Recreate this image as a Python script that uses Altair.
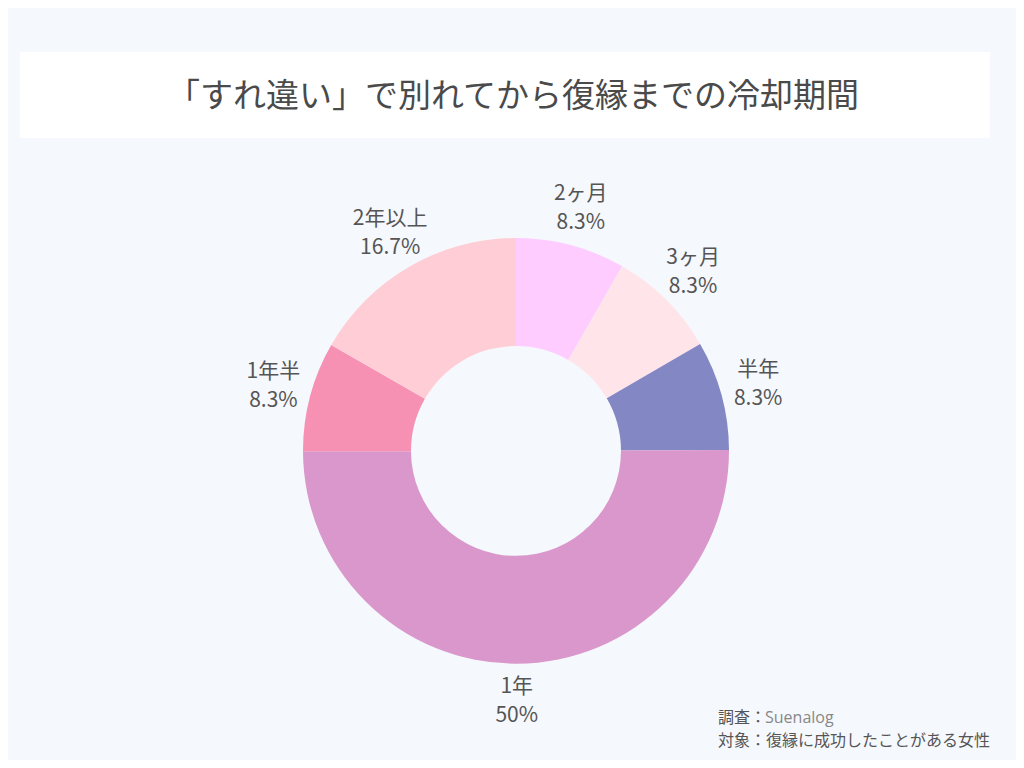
import altair as alt
import pandas as pd

categories = ["2ヶ月", "3ヶ月", "半年", "1年", "1年半", "2年以上"]
values = [8.3, 8.3, 8.3, 50.0, 8.3, 16.7]
pct_labels = ["8.3%", "8.3%", "8.3%", "50%", "8.3%", "16.7%"]
colors = ["#ffccff", "#ffe5ea", "#8387c3", "#da97cb", "#f791b3", "#ffcdd5"]

title_text = "「すれ違い」で別れてから復縁までの冷却期間"
source_label = "調査："
source_value = "Suenalog"
target_line = "対象：復縁に成功したことがある女性"

df = pd.DataFrame({
    "cat": categories,
    "val": values,
    "pct": pct_labels,
    "idx": list(range(len(categories))),
})
df["label"] = df["cat"] + "\n" + df["pct"]

W, H = 1008, 752
CX, CY = 508, 443
JP = "Noto Sans CJK JP"

base = alt.Chart(df).encode(
    theta=alt.Theta("val:Q", stack=True),
    order=alt.Order("idx:Q"),
)

arcs = base.mark_arc(outerRadius=213, innerRadius=105, stroke=None).encode(
    x=alt.value(CX), y=alt.value(CY),
    color=alt.Color("cat:N", scale=alt.Scale(domain=categories, range=colors), legend=None),
)

labels = base.mark_text(
    radius=251, dy=-15, fontSize=21, lineHeight=29, lineBreak="\n", font=JP,
    color="#555555", align="center", baseline="middle",
).encode(
    x=alt.value(CX), y=alt.value(CY),
    text="label:N",
)

one = pd.DataFrame({"a": [0]})
title_box = alt.Chart(one).mark_rect(color="#ffffff").encode(
    x=alt.value(12), x2=alt.value(982), y=alt.value(44), y2=alt.value(130)
)
title = alt.Chart(one).mark_text(
    text=title_text, font=JP, fontSize=33, fontWeight="normal", color="#4a4a4a",
    align="center", baseline="middle",
).encode(x=alt.value(505), y=alt.value(89))

src1 = alt.Chart(one).mark_text(
    text=source_label, font=JP, fontSize=16, color="#555555", align="left", baseline="middle"
).encode(x=alt.value(710), y=alt.value(710))
src2 = alt.Chart(one).mark_text(
    text=source_value, font="Open Sans", fontSize=16, color="#888888", align="left", baseline="middle"
).encode(x=alt.value(757), y=alt.value(710))
tgt = alt.Chart(one).mark_text(
    text=target_line, font=JP, fontSize=16, color="#555555", align="left", baseline="middle"
).encode(x=alt.value(710), y=alt.value(733))

chart = alt.layer(title_box, title, arcs, labels, src1, src2, tgt).properties(
    width=W, height=H, background="#f5f8fc", padding=0,
    autosize=alt.AutoSizeParams(type="none"),
).configure_view(stroke=None)

chart.save("out.html", embed_options={"renderer": "svg", "actions": False})
